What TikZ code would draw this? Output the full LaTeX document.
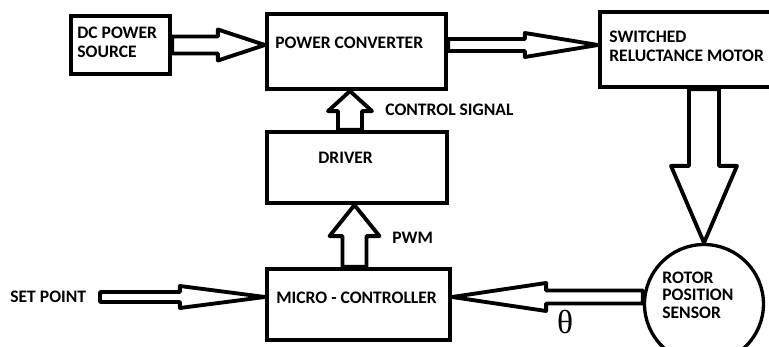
\documentclass[tikz,border=0pt]{standalone}
\usepackage{fontspec}
\setmainfont{Carlito}
\newfontfamily\thetafont{Liberation Serif}
\usetikzlibrary{calc}
\newcommand\fatarrow[5]{%
  \coordinate (fahead) at ($(#2)!#5*0.02cm!(#1)$);
  \draw[fat] ($(#1)!#3*0.02cm!90:(#2)$) -- ($(fahead)!#3*0.02cm!90:(#2)$) -- ($(fahead)!#4*0.02cm!90:(#2)$) -- (#2)
    -- ($(fahead)!#4*0.02cm!-90:(#2)$) -- ($(fahead)!#3*0.02cm!-90:(#2)$) -- ($(#1)!#3*0.02cm!-90:(#2)$) -- cycle;}

\begin{document}
\begin{tikzpicture}[x=0.02cm,y=-0.02cm,
  box/.style={draw,line width=2.4pt,inner sep=0pt},
  fat/.style={draw,fill=white,line width=2.2pt,line join=round},
  txt/.style={font=\fontsize{10}{10.8}\selectfont\bfseries,align=left,inner sep=0pt}]
  \useasboundingbox (0,0) rectangle (769,347);
  \node[box,minimum width=1.98cm,minimum height=1.16cm] (dc) at (120.5,45) {};
  \node[box,minimum width=3.58cm,minimum height=1.5cm] (pc) at (356.5,51.5) {};
  \node[box,minimum width=3.46cm,minimum height=1.5cm] (srm) at (686.5,49.5) {};
  \node[box,minimum width=3.6cm,minimum height=1.42cm] (drv) at (357,167.5) {};
  \node[box,minimum width=3.66cm,minimum height=1.42cm] (mc) at (358.5,304.5) {};
  \node[draw,circle,line width=1.9pt,minimum size=2.38cm] (rps) at (704,304) {};
  \node[txt,anchor=west] (dctxt) at (77,42.5) {DC POWER\\SOURCE};
  \node[txt,anchor=west] (pctxt) at (275,43) {POWER CONVERTER};
  \node[txt,anchor=west] (srmtxt) at (609,46) {SWITCHED\\RELUCTANCE MOTOR};
  \node[txt,anchor=west] (drvtxt) at (318,158) {DRIVER};
  \node[txt,anchor=west] (mctxt) at (276,298) {MICRO - CONTROLLER};
  \node[txt,anchor=west,font=\fontsize{10}{10}\selectfont\bfseries] (rpstxt) at (662,295) {ROTOR\\POSITION\\SENSOR};
  \node[txt,anchor=west] (cstxt) at (385,110) {CONTROL SIGNAL};
  \node[txt,anchor=west] (pwmtxt) at (392,238) {PWM};
  \node[txt,anchor=west] (sp) at (10,297) {SET POINT};
  \node[font=\thetafont\fontsize{19}{19}\selectfont] (theta) at (565,322) {θ};
  \coordinate (pcout) at ([yshift=0.13cm]pc.east);
  \coordinate (csout) at ([xshift=-0.14cm]drv.north);
  \coordinate (pwmout) at ([xshift=-0.08cm]mc.north);
  \coordinate (spout) at (100,297);
  \coordinate (rpsout) at (rps.west |- spout);
  \fatarrow{dc.east}{dc.east -| pc.west}{8.5}{15.5}{47}
  \fatarrow{pcout}{pcout -| srm.west}{6}{12}{73}
  \fatarrow{rps.north |- srm.south}{rps.north}{15}{33}{77}
  \fatarrow{csout}{csout |- pc.south}{12}{22}{20}
  \fatarrow{pwmout}{pwmout |- drv.south}{12}{25}{31}
  \fatarrow{spout}{spout -| mc.west}{5}{11}{85}
  \fatarrow{rpsout}{rpsout -| mc.east}{6.5}{14}{94}
\end{tikzpicture}
\end{document}
